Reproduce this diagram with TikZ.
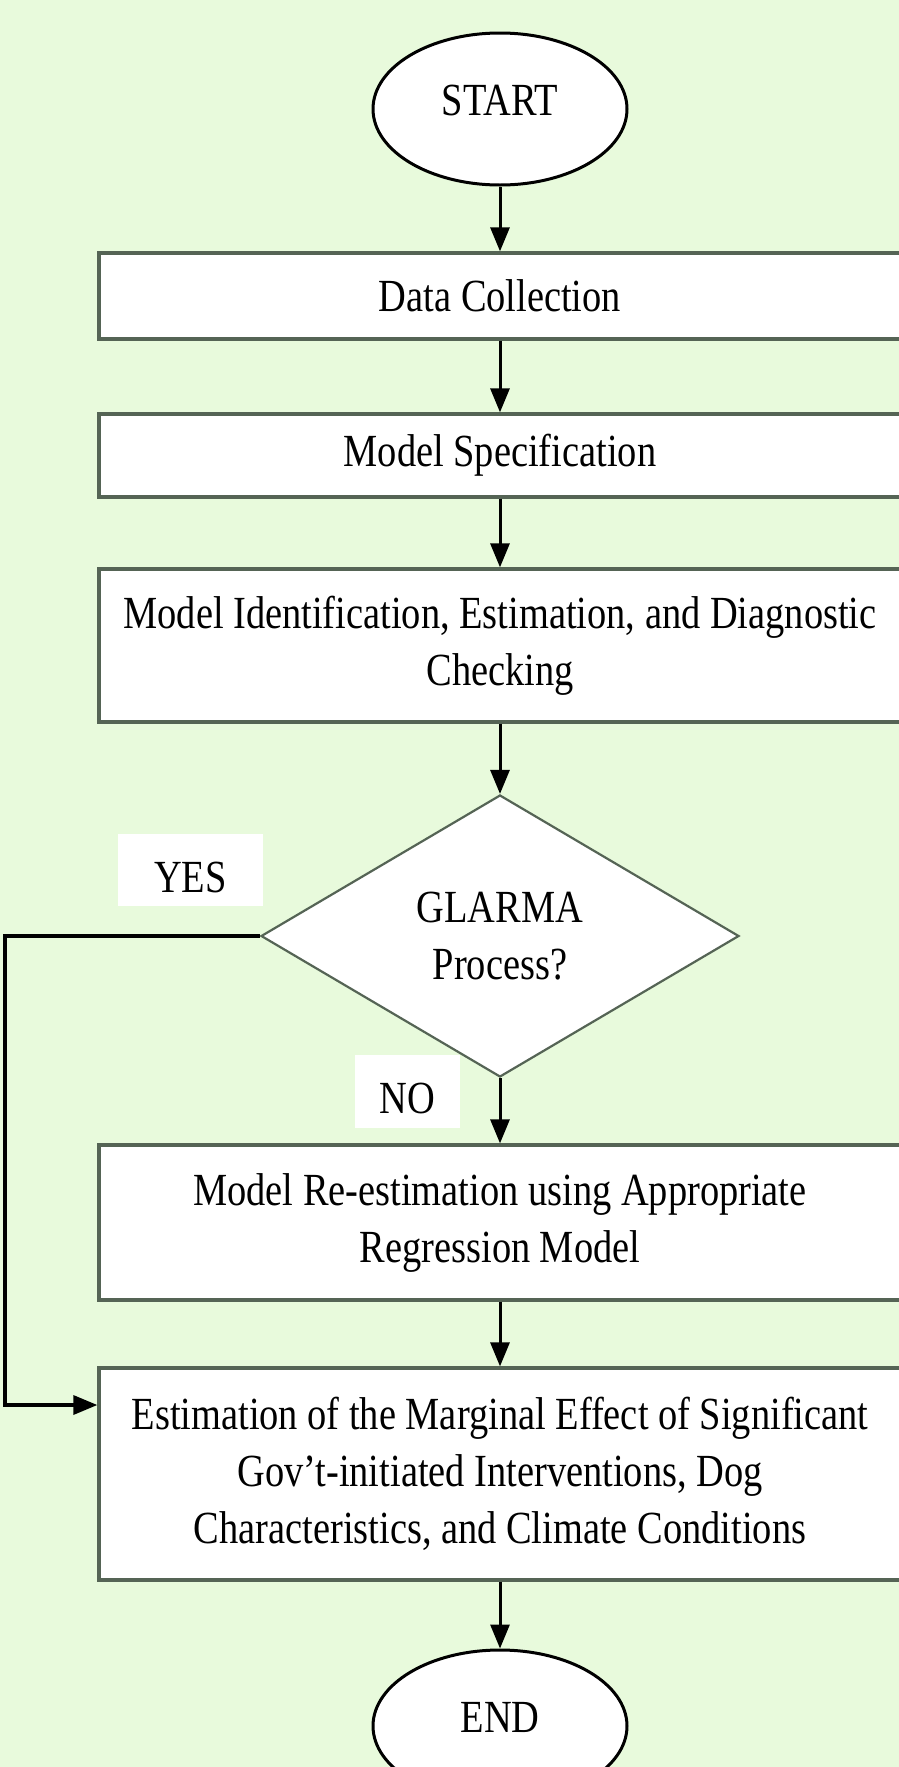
\documentclass[tikz,border=0pt]{standalone}
\usepackage{fontspec}
\setmainfont{Liberation Serif}[FakeStretch=0.835]
\usetikzlibrary{shapes.geometric,arrows.meta}
\definecolor{bg}{RGB}{232,250,220}
\definecolor{edgec}{RGB}{85,100,85}
\begin{document}
\begin{tikzpicture}[x=1pt,y=-1pt,
  font=\fontsize{46}{57}\selectfont,
  proc/.style={draw=edgec, line width=3.3pt, fill=white, rectangle, minimum width=802pt, inner sep=0pt, align=center},
  term/.style={draw=black, line width=3pt, fill=white, ellipse, minimum width=254pt, minimum height=152pt, inner sep=0pt, text height=30pt, text depth=18pt},
  dec/.style={draw=edgec, line width=2.2pt, fill=white, diamond, minimum width=478pt, minimum height=282pt, inner sep=0pt, align=center},
  lbl/.style={fill=white, inner sep=0pt, text height=44pt, text depth=0pt},
  arr/.style={line width=3pt, -{Triangle[length=24pt,width=19pt]}},
]
\fill[bg] (0,0) rectangle (899,1767);
\useasboundingbox (0,0) rectangle (899,1767);
\clip (0,0) rectangle (899,1767);

\node[term] (start) at (500,109) {START};
\node[proc, minimum height=86pt] (dc) at (500,296) {Data Collection};
\node[proc, minimum height=83pt] (ms) at (500,455.5) {Model Specification};
\node[proc, minimum height=153pt] (mi) at (500,645.5) {Model Identification, Estimation, and Diagnostic\\Checking};
\node[dec] (dia) at (500,936) {GLARMA\\Process?};
\node[lbl, minimum width=145pt, minimum height=72pt] (yes) at (190.5,870) {YES};
\node[lbl, minimum width=105pt, minimum height=73pt] (no) at (407.5,1091.5) {NO};
\node[proc, minimum height=155pt] (re) at (500,1222.5) {Model Re-estimation using Appropriate\\Regression Model};
\node[proc, minimum height=212pt] (est) at (500,1474) {Estimation of the Marginal Effect of Significant\\Gov’t-initiated Interventions, Dog\\Characteristics, and Climate Conditions};
\node[term] (finish) at (500,1726) {END};
\coordinate (corner) at (5,1405);

\draw[arr] (start) -- (dc);
\draw[arr] (dc) -- (ms);
\draw[arr] (ms) -- (mi);
\draw[arr] (mi) -- (dia);
\draw[arr] (dia.south) -- (re);
\draw[arr] (re) -- (est);
\draw[arr] (est) -- (finish);
\draw[arr, line width=3.4pt] (dia.west) -| (corner) -- (corner -| est.west);
\end{tikzpicture}
\end{document}
